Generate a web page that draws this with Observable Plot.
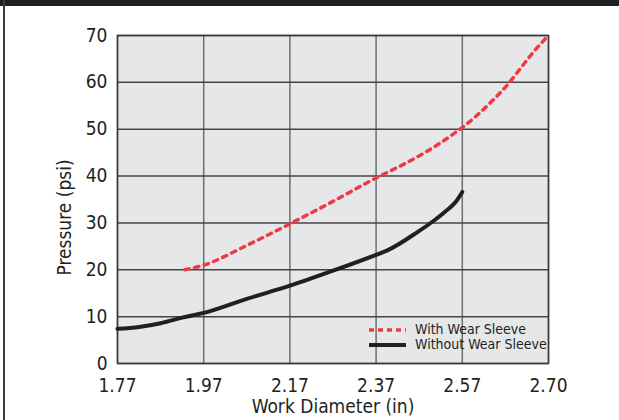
<!DOCTYPE html>
<html>
<head>
<meta charset="utf-8">
<script src="https://cdn.jsdelivr.net/npm/d3@7"></script>
<script src="https://cdn.jsdelivr.net/npm/@observablehq/plot@0.6"></script>
<style>
  html, body { margin: 0; padding: 0; background: #fff; }
  #wrap { position: relative; width: 619px; height: 420px; overflow: hidden; font-family: "Liberation Sans Narrow", "Arial Narrow", "DejaVu Sans Condensed", sans-serif; }
  #band { position: absolute; left: 0; top: 0; width: 619px; height: 6px; background: #231f20; }
  #lborder { position: absolute; left: 3px; top: 0; width: 1.5px; height: 420px; background: #3a3a3a; }
  #legend { position: absolute; left: 369px; top: 322px; font-size: 14px; color: #231f20; line-height: 15px; }
  #legend .row { display: flex; align-items: center; height: 15px; }
  #legend svg { margin-right: 9px; }
</style>
</head>
<body>
<div id="wrap">
  <div id="chart"></div>
  <div id="band"></div>
  <div id="lborder"></div>
  <div id="legend"></div>
</div>
<script>
// Data
const xTicks = [1.77, 1.97, 2.17, 2.37, 2.57, 2.70];
const yTicks = [0, 10, 20, 30, 40, 50, 60, 70];

const withX = [1.926, 1.97, 2.07, 2.17, 2.27, 2.37, 2.438, 2.479, 2.518, 2.557, 2.574, 2.597, 2.619, 2.640, 2.659, 2.678, 2.70];
const withY = [20, 21, 25.2, 29.8, 34.6, 39.6, 42.7, 44.8, 47.0, 49.5, 50.8, 53.6, 56.6, 59.8, 63.2, 66.6, 70];

const withoutX = [1.77, 1.82, 1.87, 1.92, 1.97, 2.07, 2.17, 2.27, 2.37, 2.395, 2.47, 2.50, 2.53, 2.555, 2.57];
const withoutY = [7.4, 7.8, 8.6, 9.8, 10.8, 13.8, 16.6, 19.8, 23.2, 24.1, 28.3, 30.2, 32.4, 34.5, 36.6];

const seriesNames = ["With Wear Sleeve", "Without Wear Sleeve"];
const xLabel = "Work Diameter (in)";
const yLabel = "Pressure (psi)";

const withData = withX.map((x, i) => ({x, y: withY[i]}));
const withoutData = withoutX.map((x, i) => ({x, y: withoutY[i]}));

const W = 619, H = 420;
const mL = 117, mR = 71, mT = 35, mB = 57;
// evenly spaced tick positions (piecewise scale like the reference)
const xRange = xTicks.map((_, i) => mL + i * (W - mL - mR) / (xTicks.length - 1));

const RED = "#ee3a43", BLACK = "#231f20";
const font = '"Liberation Sans Narrow", "Arial Narrow", "DejaVu Sans Condensed", sans-serif';

const plot = Plot.plot({
  width: W, height: H,
  marginLeft: mL, marginRight: mR, marginTop: mT, marginBottom: mB,
  style: {fontFamily: font, fontSize: "19px", color: BLACK, background: "transparent", overflow: "visible"},
  x: {type: "linear", domain: xTicks, range: xRange, ticks: xTicks},
  y: {type: "linear", domain: [0, 70], ticks: yTicks},
  marks: [
    Plot.frame({fill: "#e6e7e9", stroke: null}),
    Plot.ruleX(xTicks, {stroke: "#6e6e6e", strokeWidth: 1.5}),
    Plot.ruleY(yTicks, {stroke: "#444", strokeWidth: 1.5}),
    Plot.frame({stroke: "#3a3a3a", strokeWidth: 1.5}),
    Plot.axisX({ticks: xTicks, tickFormat: d => d.toFixed(2), tickSize: 0, tickPadding: 15, label: null, fontSize: 19}),
    Plot.axisY({ticks: yTicks, tickSize: 0, tickPadding: 10, label: null, fontSize: 19}),
    Plot.text([xLabel], {frameAnchor: "bottom", dy: 49, fontSize: 19, fill: BLACK}),
    Plot.text([yLabel], {frameAnchor: "left", textAnchor: "middle", dx: -53, dy: 18, rotate: -90, fontSize: 19, fill: BLACK}),
    Plot.line(withData, {x: "x", y: "y", stroke: RED, strokeWidth: 3.5, strokeDasharray: "4.5 5.5", curve: "monotone-x"}),
    Plot.line(withoutData, {x: "x", y: "y", stroke: BLACK, strokeWidth: 4, curve: "monotone-x"})
  ]
});
document.getElementById("chart").appendChild(plot);

// legend
const legend = document.getElementById("legend");
const styles = [{stroke: RED, dash: "5 4", w: 3.5}, {stroke: BLACK, dash: null, w: 4}];
seriesNames.forEach((name, i) => {
  const s = styles[i];
  const row = document.createElement("div");
  row.className = "row";
  row.innerHTML = `<svg width="37" height="8"><line x1="0" x2="37" y1="4" y2="4" stroke="${s.stroke}" stroke-width="${s.w}" ${s.dash ? `stroke-dasharray="${s.dash}"` : ""}/></svg><span>${name}</span>`;
  legend.appendChild(row);
});
</script>
</body>
</html>
